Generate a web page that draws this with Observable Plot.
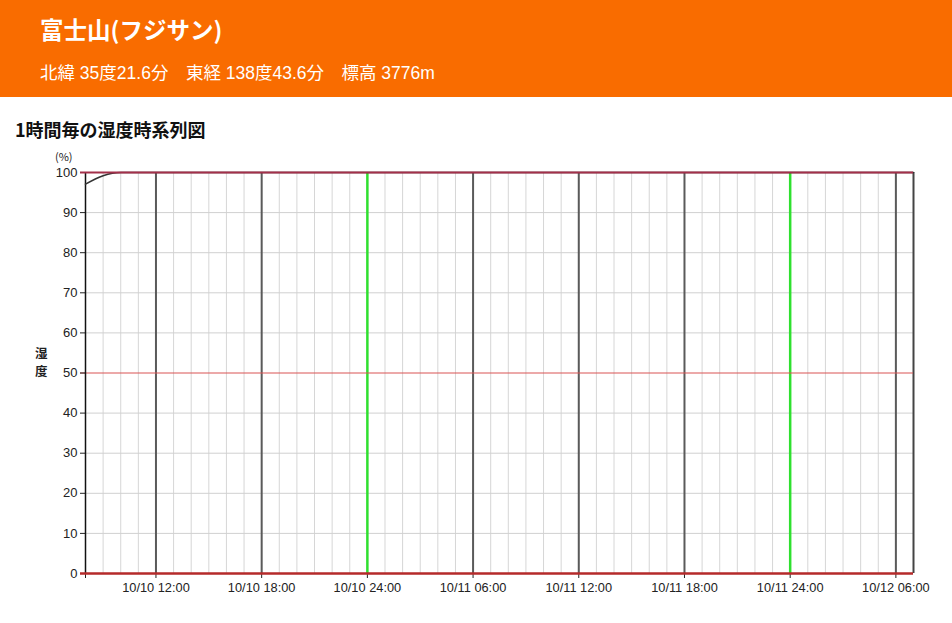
<!DOCTYPE html>
<html><head><meta charset="utf-8">
<script src="https://cdn.jsdelivr.net/npm/d3@7"></script>
<script src="https://cdn.jsdelivr.net/npm/@observablehq/plot@0.6"></script>
<style>
  html,body{margin:0;padding:0;background:#fff;width:952px;height:623px;overflow:hidden;}
  body{position:relative;font-family:"Noto Sans CJK JP","Liberation Sans",sans-serif;}
  #hdr{position:absolute;left:0;top:0;width:952px;height:97px;background:#f96c00;color:#fff;}
  #ttl{position:absolute;left:40px;top:13px;font-size:23.5px;font-weight:bold;line-height:32px;white-space:nowrap;}
  #sub{position:absolute;left:40px;top:61px;font-size:17.5px;line-height:24px;white-space:nowrap;font-family:"Liberation Sans","Noto Sans CJK JP",sans-serif;}
  #ct{position:absolute;left:15px;top:116px;font-size:18px;font-weight:bold;line-height:26px;color:#111;white-space:nowrap;}
  #unit{position:absolute;left:55px;top:149px;font-size:11px;line-height:14px;color:#222;}
  .yl{position:absolute;left:35px;font-size:12.5px;line-height:13px;color:#222;font-weight:bold;}
  #chart{position:absolute;left:0;top:140px;}
</style></head>
<body>
<div id="hdr"><div id="ttl">富士山(フジサン)</div><div id="sub">北緯 35度21.6分　東経 138度43.6分　標高 3776m</div></div>
<div id="ct">1時間毎の湿度時系列図</div>
<div id="unit">(%)</div>
<div class="yl" style="top:346px">湿</div>
<div class="yl" style="top:364px">度</div>
<div id="chart"></div>
<script>
// hourly observations from 10/10 08:00 to 10/12 07:00
const startTime = "2015-10-10T08:00Z";
const endTime = "2015-10-12T07:00Z";
const humidity = [
  97.1, 99.2, 100, 100, 100, 100, 100, 100, 100, 100, 100, 100,
  100, 100, 100, 100, 100, 100, 100, 100, 100, 100, 100, 100,
  100, 100, 100, 100, 100, 100, 100, 100, 100, 100, 100, 100,
  100, 100, 100, 100, 100, 100, 100, 100, 100, 100, 100, 100
];
const xTicks = ["2015-10-10T12:00Z","2015-10-10T18:00Z","2015-10-11T00:00Z","2015-10-11T06:00Z",
                "2015-10-11T12:00Z","2015-10-11T18:00Z","2015-10-12T00:00Z","2015-10-12T06:00Z"];
const xTickLabels = ["10/10 12:00","10/10 18:00","10/10 24:00","10/11 06:00",
                     "10/11 12:00","10/11 18:00","10/11 24:00","10/12 06:00"];
const midnights = ["2015-10-11T00:00Z","2015-10-12T00:00Z"];
const yTicks = [0,10,20,30,40,50,60,70,80,90,100];
const redLevels = [0, 50, 100];

const t0 = new Date(startTime), t1 = new Date(endTime);
const hours = d3.utcHour.range(t0, d3.utcHour.offset(t1, 1));
const data = hours.map((t, i) => ({t, v: humidity[i]}));
const tickDates = xTicks.map(s => new Date(s));
const midDates = midnights.map(s => new Date(s));
const sixDates = tickDates.filter(d => !midDates.some(m => +m === +d));
const labelOf = new Map(tickDates.map((d, i) => [+d, xTickLabels[i]]));

const plot = Plot.plot({
  width: 952, height: 473,
  marginLeft: 85, marginRight: 39, marginTop: 32, marginBottom: 40,
  style: {fontFamily: "'Liberation Sans','Noto Sans CJK JP',sans-serif", fontSize: "13px", color: "#222", background: "transparent"},
  x: {type: "utc", domain: [t0, t1]},
  y: {domain: [0, 100]},
  marks: [
    Plot.ruleX(hours, {stroke: "#d6d6d6", strokeWidth: 1}),
    Plot.ruleY(yTicks.filter(v => !redLevels.includes(v)), {stroke: "#d0d0d0", strokeWidth: 1}),
    Plot.ruleX(sixDates, {stroke: "#5a5a5a", strokeWidth: 2}),
    Plot.ruleX([t1], {stroke: "#444", strokeWidth: 2}),
    Plot.ruleX(midDates, {stroke: "#2fe02f", strokeWidth: 2.5}),
    Plot.ruleY([50], {stroke: "#d95555", strokeWidth: 1.2, insetLeft: -5}),
    Plot.axisY({ticks: yTicks, tickSize: 5, tickPadding: 3, label: null, fontSize: 13}),
    Plot.axisX({ticks: [t0, ...tickDates], tickSize: 5, tickPadding: 4, label: null, fontSize: 12.8,
      tickFormat: d => labelOf.get(+d) ?? ""}),
    Plot.ruleX([t0], {y1: 0, y2: 100, stroke: "#111", strokeWidth: 1.5}),
    Plot.line(data, {x: "t", y: "v", curve: "monotone-x", stroke: "#333", strokeWidth: 1.6}),
    Plot.ruleY([100], {stroke: "#a3304a", strokeWidth: 2, insetLeft: -5}),
    Plot.ruleY([0], {stroke: "#b52a2a", strokeWidth: 2.5, insetLeft: -5})
  ]
});
document.getElementById("chart").appendChild(plot);
</script>
</body></html>
